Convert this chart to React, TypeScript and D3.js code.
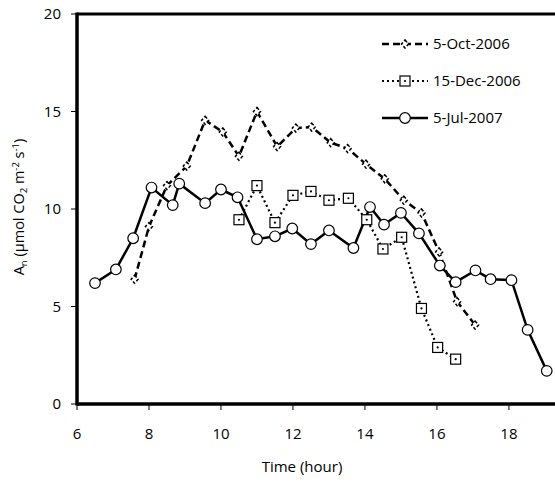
import React from "react";
import * as d3 from "d3";

const octTime = [7.6, 8.0, 8.5, 9.05, 9.56, 10.05, 10.5, 11.0, 11.56, 12.08, 12.52, 13.05, 13.52, 14.03, 14.55, 15.08, 15.57, 16.06, 16.56, 17.06];
const octValue = [6.4, 9.1, 11.2, 12.2, 14.55, 13.95, 12.7, 15.0, 13.2, 14.15, 14.2, 13.4, 13.1, 12.3, 11.55, 10.45, 9.8, 7.8, 5.25, 4.05];

const decTime = [10.5, 11.0, 11.5, 12.0, 12.5, 13.0, 13.54, 14.05, 14.5, 15.02, 15.57, 16.02, 16.52];
const decValue = [9.45, 11.2, 9.3, 10.7, 10.9, 10.45, 10.55, 9.45, 7.95, 8.55, 4.9, 2.9, 2.3];

const julTime = [6.5, 7.08, 7.56, 8.07, 8.66, 8.84, 9.56, 10.0, 10.46, 11.0, 11.5, 11.98, 12.5, 13.0, 13.68, 14.14, 14.53, 15.0, 15.5, 16.08, 16.52, 17.07, 17.49, 18.07, 18.52, 19.05];
const julValue = [6.2, 6.9, 8.5, 11.1, 10.2, 11.3, 10.3, 11.0, 10.6, 8.45, 8.6, 9.0, 8.2, 8.9, 8.0, 10.1, 9.2, 9.8, 8.75, 7.1, 6.25, 6.85, 6.4, 6.35, 3.8, 1.7];

const xTicks = [6, 8, 10, 12, 14, 16, 18];
const yTicks = [0, 5, 10, 15, 20];
const seriesNames = ["5-Oct-2006", "15-Dec-2006", "5-Jul-2007"];

const FONT = "'Open Sans', sans-serif";

export default function App() {
  const left = 77, right = 555, top = 14, bottom = 404;
  const x = d3.scaleLinear().domain([6, 19.28]).range([left, right]);
  const y = d3.scaleLinear().domain([0, 20]).range([bottom, top]);
  const line = d3.line<[number, number]>().x(d => x(d[0])).y(d => y(d[1]));

  const oct = octTime.map((t, i) => [t, octValue[i]] as [number, number]);
  const dec = decTime.map((t, i) => [t, decValue[i]] as [number, number]);
  const jul = julTime.map((t, i) => [t, julValue[i]] as [number, number]);

  const diamond = (cx: number, cy: number, k: string) => (
    <path key={k} d={`M${cx},${cy - 4} L${cx + 3.5},${cy} L${cx},${cy + 4} L${cx - 3.5},${cy} Z`}
      fill="#fff" stroke="#000" strokeWidth={1.5} strokeDasharray="3,2" />
  );
  const square = (cx: number, cy: number, k: string) => (
    <g key={k}>
      <rect x={cx - 5} y={cy - 5} width={10} height={10} fill="#fff" stroke="#000" strokeWidth={1.2} />
      <circle cx={cx} cy={cy} r={1.1} fill="#000" />
    </g>
  );
  const circ = (cx: number, cy: number, k: string) => (
    <circle key={k} cx={cx} cy={cy} r={5.3} fill="#fff" stroke="#000" strokeWidth={1.2} />
  );

  const legendY = [44, 81, 118];
  const lx0 = 382, lx1 = 428, lmx = 405;

  return (
    <svg width={555} height={483} style={{ position: "absolute", left: 0, top: 0, background: "#fff" }}>
      <rect x={0} y={0} width={555} height={483} fill="#fff" />
      <path d={line(oct) || ""} fill="none" stroke="#000" strokeWidth={2.5} strokeDasharray="7,4" />
      <path d={line(dec) || ""} fill="none" stroke="#000" strokeWidth={2.2} strokeDasharray="2,3" />
      <path d={line(jul) || ""} fill="none" stroke="#000" strokeWidth={2.5} />
      {oct.map((d, i) => diamond(x(d[0]), y(d[1]), "o" + i))}
      {dec.map((d, i) => square(x(d[0]), y(d[1]), "d" + i))}
      {jul.map((d, i) => circ(x(d[0]), y(d[1]), "j" + i))}

      <line x1={left} x2={right + 2} y1={top} y2={top} stroke="#000" strokeWidth={3} />
      <line x1={left} x2={left} y1={top - 1.5} y2={bottom + 1.5} stroke="#000" strokeWidth={3.5} />
      <line x1={left} x2={right + 2} y1={bottom} y2={bottom} stroke="#000" strokeWidth={3.5} />

      {yTicks.map(v => (
        <g key={"yt" + v}>
          <line x1={left - 6} x2={left} y1={y(v)} y2={y(v)} stroke="#000" strokeWidth={1} />
          <text x={61} y={y(v)} dy="0.35em" textAnchor="end" fontFamily={FONT} fontSize={15} fill="#000">{v}</text>
        </g>
      ))}
      {xTicks.map(v => (
        <g key={"xt" + v}>
          <line x1={x(v)} x2={x(v)} y1={bottom} y2={bottom + 6} stroke="#000" strokeWidth={1} />
          <text x={x(v)} y={434} dy="0.35em" textAnchor="middle" fontFamily={FONT} fontSize={15} fill="#000">{v}</text>
        </g>
      ))}
      <text x={302} y={467} dy="0.35em" textAnchor="middle" fontFamily={FONT} fontSize={15} fill="#000">Time (hour)</text>

      <text transform={`translate(19,207) rotate(-90)`} textAnchor="middle" dy="0.35em" fontFamily={FONT} fontSize={14.5} fill="#000">
        A<tspan fontSize={9.5} dy={3}>n</tspan>
        <tspan dy={-3}> (µmol CO</tspan>
        <tspan fontSize={9.5} dy={3}>2</tspan>
        <tspan dy={-3}> m</tspan>
        <tspan fontSize={9.5} dy={-5}>-2</tspan>
        <tspan dy={5}> s</tspan>
        <tspan fontSize={9.5} dy={-5}>-1</tspan>
        <tspan dy={5}>)</tspan>
      </text>

      <line x1={lx0} x2={lx1} y1={legendY[0]} y2={legendY[0]} stroke="#000" strokeWidth={2.5} strokeDasharray="7,4" />
      {diamond(lmx, legendY[0], "ld")}
      <line x1={lx0} x2={lx1} y1={legendY[1]} y2={legendY[1]} stroke="#000" strokeWidth={2.2} strokeDasharray="2,3" />
      {square(lmx, legendY[1], "ls")}
      <line x1={lx0} x2={lx1} y1={legendY[2]} y2={legendY[2]} stroke="#000" strokeWidth={2.5} />
      {circ(lmx, legendY[2], "lc")}
      {seriesNames.map((n, i) => (
        <text key={n} x={433} y={legendY[i]} dy="0.35em" fontFamily={FONT} fontSize={15} fill="#000">{n}</text>
      ))}
    </svg>
  );
}
